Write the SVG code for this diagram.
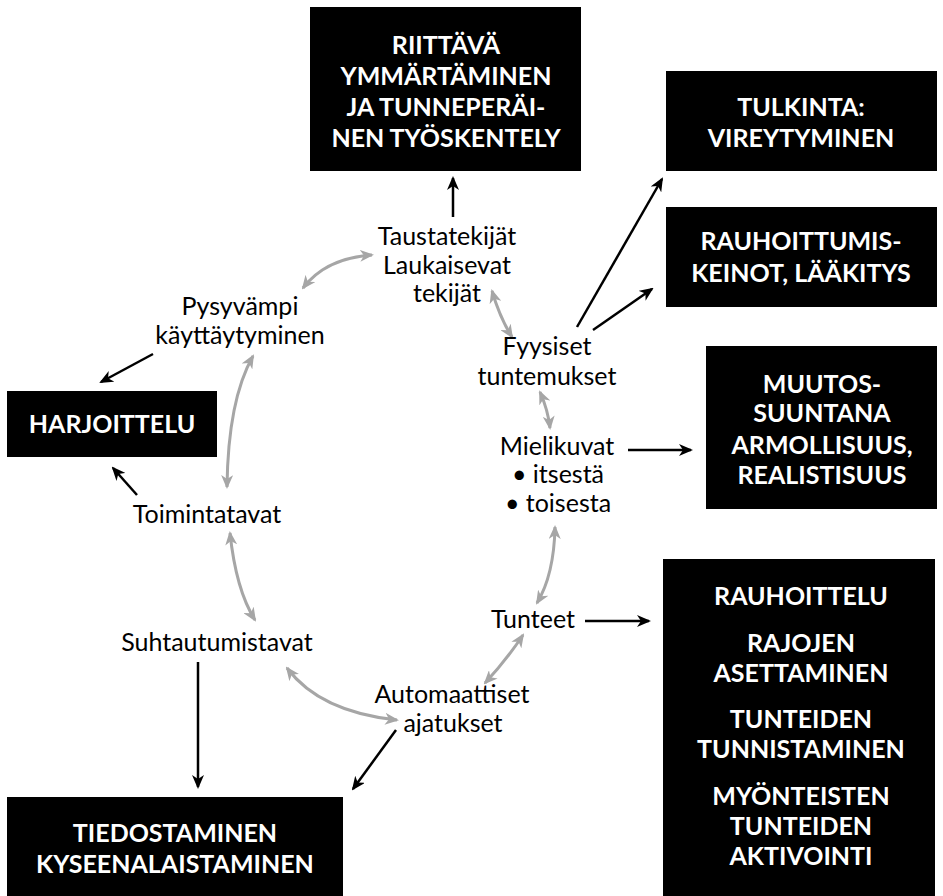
<svg xmlns="http://www.w3.org/2000/svg" width="943" height="896" viewBox="0 0 943 896">
<style>
.box{fill:#000}
.bt{font-family:Lato,"Open Sans","Liberation Sans",sans-serif;font-weight:bold;font-size:25px;fill:#fff;text-anchor:middle}
.lt{font-family:Lato,"Open Sans","Liberation Sans",sans-serif;font-size:25px;fill:#000;text-anchor:middle}
.ba{fill:none;stroke:#000;stroke-width:2.5;marker-end:url(#hb)}
.ga{fill:none;stroke:#a6a6a6;stroke-width:3;marker-start:url(#hg);marker-end:url(#hg)}
</style>
<defs>
<marker id="hb" markerUnits="userSpaceOnUse" viewBox="0 0 14 12" markerWidth="14" markerHeight="12" refX="12" refY="6" orient="auto">
<path d="M0,0 L14,6 L0,12 L4,6 z" fill="#000"/>
</marker>
<marker id="hg" markerUnits="userSpaceOnUse" viewBox="0 0 14 12" markerWidth="14" markerHeight="12" refX="12" refY="6" orient="auto-start-reverse">
<path d="M0,0 L14,6 L0,12 L4,6 z" fill="#a6a6a6"/>
</marker>
</defs>
<rect width="943" height="896" fill="#fff"/>

<g id="connectors">
<line class="ba" x1="453" y1="217" x2="453" y2="178"/>
<line class="ba" x1="577" y1="327" x2="662" y2="179"/>
<line class="ba" x1="593" y1="330" x2="652" y2="289"/>
<line class="ba" x1="628" y1="450" x2="691" y2="450"/>
<line class="ba" x1="585" y1="621" x2="649" y2="621"/>
<line class="ba" x1="153" y1="354" x2="101" y2="382"/>
<line class="ba" x1="137" y1="495" x2="113" y2="468"/>
<line class="ba" x1="198" y1="662" x2="198" y2="787"/>
<line class="ba" x1="396" y1="730" x2="353" y2="789"/>
<path class="ga" d="M303,288 Q326,258 372,255"/>
<path class="ga" d="M492,291 Q500,318 512,337"/>
<path class="ga" d="M540,392 Q548,410 550,428"/>
<path class="ga" d="M555,527 Q554,575 537,603"/>
<path class="ga" d="M523,635 Q505,662 485,683"/>
<path class="ga" d="M397,720 Q320,712 287,668"/>
<path class="ga" d="M255,620 Q236,590 230,533"/>
<path class="ga" d="M227,487 Q228,400 253,356"/>
</g>

<g id="n-riittava">
<rect class="box" x="310" y="7" width="271" height="164"/>
<text class="bt" x="446" y="54">RIITTÄVÄ</text>
<text class="bt" x="446" y="85">YMMÄRTÄMINEN</text>
<text class="bt" x="446" y="116">JA TUNNEPERÄI-</text>
<text class="bt" x="446" y="147">NEN TYÖSKENTELY</text>
</g>

<g id="n-tulkinta">
<rect class="box" x="666" y="71" width="271" height="100"/>
<text class="bt" x="801" y="116">TULKINTA:</text>
<text class="bt" x="801" y="147">VIREYTYMINEN</text>
</g>

<g id="n-rauhoittumis">
<rect class="box" x="666" y="207" width="271" height="100"/>
<text class="bt" x="801" y="250">RAUHOITTUMIS-</text>
<text class="bt" x="801" y="282">KEINOT, LÄÄKITYS</text>
</g>

<g id="n-muutos">
<rect class="box" x="706" y="346" width="231" height="163"/>
<text class="bt" x="822" y="393">MUUTOS-</text>
<text class="bt" x="822" y="422">SUUNTANA</text>
<text class="bt" x="822" y="454">ARMOLLISUUS,</text>
<text class="bt" x="822" y="484">REALISTISUUS</text>
</g>

<g id="n-rauhoittelu">
<rect class="box" x="663" y="559" width="272" height="337"/>
<text class="bt" x="801" y="605">RAUHOITTELU</text>
<text class="bt" x="801" y="652">RAJOJEN</text>
<text class="bt" x="801" y="682">ASETTAMINEN</text>
<text class="bt" x="801" y="728">TUNTEIDEN</text>
<text class="bt" x="801" y="758">TUNNISTAMINEN</text>
<text class="bt" x="801" y="805">MYÖNTEISTEN</text>
<text class="bt" x="801" y="835">TUNTEIDEN</text>
<text class="bt" x="801" y="865">AKTIVOINTI</text>
</g>

<g id="n-harjoittelu">
<rect class="box" x="7" y="391" width="210" height="66"/>
<text class="bt" x="112" y="433">HARJOITTELU</text>
</g>

<g id="n-tiedostaminen">
<rect class="box" x="7" y="797" width="336" height="99"/>
<text class="bt" x="175" y="842">TIEDOSTAMINEN</text>
<text class="bt" x="175" y="873">KYSEENALAISTAMINEN</text>
</g>

<g id="n-taustatekijat">
<text class="lt" x="447" y="245">Taustatekijät</text>
<text class="lt" x="447" y="274">Laukaisevat</text>
<text class="lt" x="447" y="302">tekijät</text>
</g>

<g id="n-pysyvampi">
<text class="lt" x="240" y="315">Pysyvämpi</text>
<text class="lt" x="240" y="344">käyttäytyminen</text>
</g>

<g id="n-fyysiset">
<text class="lt" x="547" y="355">Fyysiset</text>
<text class="lt" x="547" y="385">tuntemukset</text>
</g>

<g id="n-mielikuvat">
<text class="lt" x="557" y="455">Mielikuvat</text>
<text class="lt" x="558" y="483">• itsestä</text>
<text class="lt" x="558" y="512">• toisesta</text>
</g>

<g id="n-toimintatavat">
<text class="lt" x="207" y="523">Toimintatavat</text>
</g>

<g id="n-tunteet">
<text class="lt" x="533" y="628">Tunteet</text>
</g>

<g id="n-suhtautumistavat">
<text class="lt" x="217" y="651">Suhtautumistavat</text>
</g>

<g id="n-automaattiset">
<text class="lt" x="452" y="703">Automaattiset</text>
<text class="lt" x="453" y="732">ajatukset</text>
</g>
</svg>
